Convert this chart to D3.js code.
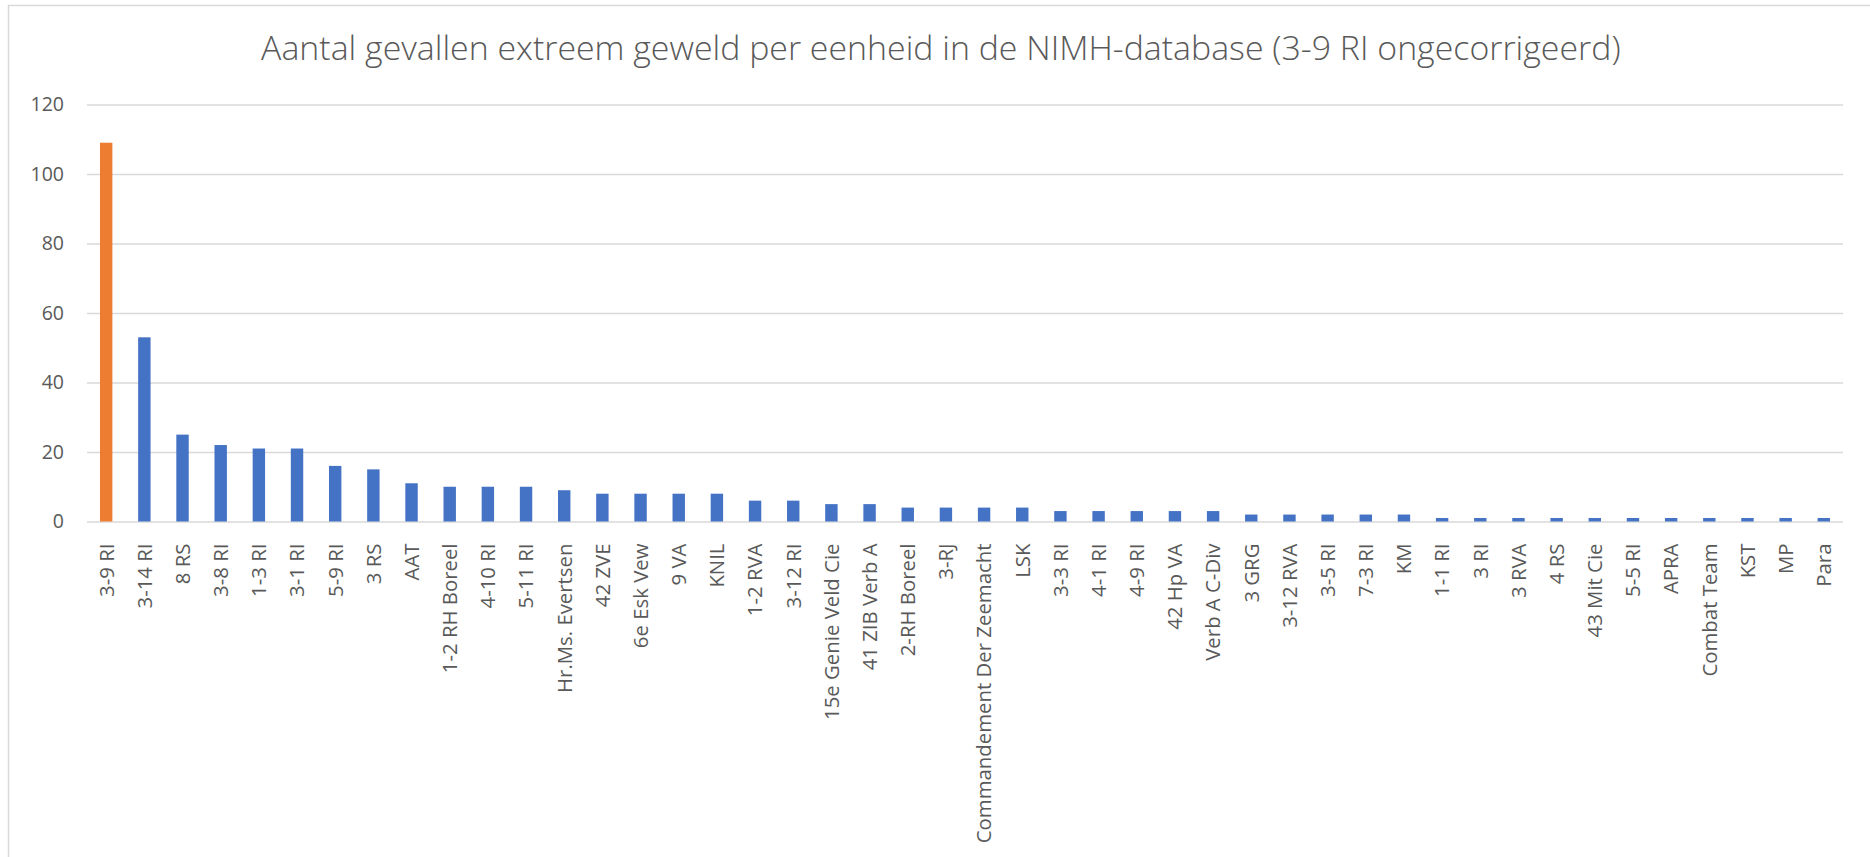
<!DOCTYPE html>
<html><head><meta charset="utf-8">
<script src="https://cdn.jsdelivr.net/npm/d3@7"></script>
<style>body{margin:0;background:#fff} svg{display:block}</style>
</head><body>
<svg id="c" width="1870" height="857"></svg>
<script>
const title = "Aantal gevallen extreem geweld per eenheid in de NIMH-database (3-9 RI ongecorrigeerd)";
const categories = ["3-9 RI","3-14 RI","8 RS","3-8 RI","1-3 RI","3-1 RI","5-9 RI","3 RS","AAT","1-2 RH Boreel",
  "4-10 RI","5-11 RI","Hr.Ms. Evertsen","42 ZVE","6e Esk Vew","9 VA","KNIL","1-2 RVA","3-12 RI","15e Genie Veld Cie",
  "41 ZIB Verb A","2-RH Boreel","3-RJ","Commandement Der Zeemacht","LSK","3-3 RI","4-1 RI","4-9 RI","42 Hp VA","Verb A C-Div",
  "3 GRG","3-12 RVA","3-5 RI","7-3 RI","KM","1-1 RI","3 RI","3 RVA","4 RS","43 Mit Cie",
  "5-5 RI","APRA","Combat Team","KST","MP","Para"];
const values = [109,53,25,22,21,21,16,15,11,10,
  10,10,9,8,8,8,8,6,6,5,
  5,4,4,4,4,3,3,3,3,3,
  2,2,2,2,2,1,1,1,1,1,
  1,1,1,1,1,1];
const highlighted = ["3-9 RI"];
const yTicks = [0,20,40,60,80,100,120];

(function(){
const W = 1870, H = 857;
const FONT = "'Open Sans', 'Noto Sans', sans-serif";
const TEXT = "#595959", GRID = "#d9d9d9", BLUE = "#4472c4", ORANGE = "#ed7d31";
const data = categories.map((c,i)=>({c, v: values[i]}));

const svg = d3.select("#c");
svg.append("rect").attr("width",W).attr("height",H).attr("fill","#fff");
svg.append("rect").attr("x",8.5).attr("y",5.5).attr("width",W).attr("height",H)
  .attr("fill","none").attr("stroke",GRID).attr("stroke-width",1.5);

const pLeft = 87, pRight = 1843, pTop = 104.5, pBottom = 521.5;
const x = d3.scaleBand().domain(categories).range([pLeft,pRight]).paddingInner(0.675).paddingOuter(0.34);
const y = d3.scaleLinear().domain([0,120]).range([pBottom,pTop]);

function fit(sel, target){
  const w = sel.node().getComputedTextLength();
  const fs = parseFloat(sel.attr("font-size"));
  return fs*target/w;
}

// title
const t = svg.append("text").attr("x",(260.7+1621)/2).attr("y",59.5)
  .attr("text-anchor","middle").attr("font-family",FONT).attr("font-weight",300)
  .attr("font-size",28).attr("fill",TEXT).text(title);
t.attr("font-size", fit(t,1360));

// y axis + gridlines
const yg = svg.append("g").attr("transform",`translate(${pLeft},0)`)
  .call(d3.axisLeft(y).tickValues(yTicks).tickSize(-(pRight-pLeft)).tickPadding(23));
yg.select(".domain").remove();
yg.selectAll(".tick line").attr("stroke",GRID).attr("stroke-width",1.5);
yg.selectAll(".tick text").attr("font-family",FONT).attr("font-size",19.5).attr("fill",TEXT);

// bars
svg.append("g").selectAll("rect").data(data).join("rect")
  .attr("x",d=>x(d.c)).attr("width",x.bandwidth())
  .attr("y",d=>y(d.v)).attr("height",d=>y(0)-y(d.v))
  .attr("fill",d=>highlighted.includes(d.c)?ORANGE:BLUE);

// x axis
const xg = svg.append("g").attr("transform",`translate(0,${pBottom})`)
  .call(d3.axisBottom(x).tickSize(0));
xg.select(".domain").remove();
const xt = xg.selectAll(".tick text")
  .attr("font-family",FONT).attr("font-size",20).attr("fill",TEXT)
  .attr("transform","rotate(-90)").attr("x",-22).attr("y",0).attr("dy","0.36em")
  .style("text-anchor","end");
const ref = xt.filter(d=>d==="Commandement Der Zeemacht");
const fs = fit(ref,300);
xt.attr("font-size",fs);
})();
</script>
</body></html>
